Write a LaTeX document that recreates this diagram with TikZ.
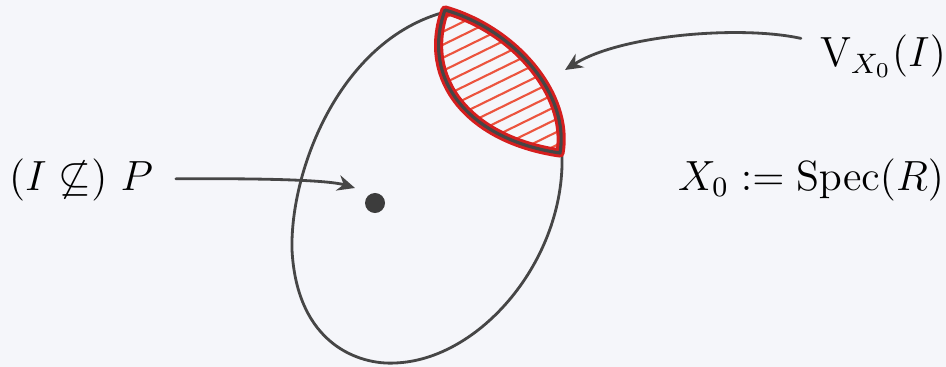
\documentclass[tikz,border=0pt]{standalone}
\usepackage{amsmath, amssymb}
\usepackage{tikz}
\usetikzlibrary{arrows.meta}
\usepackage{xcolor}

\definecolor{pencil}{RGB}{70,70,70}
\definecolor{redpen}{RGB}{214,30,30}
\definecolor{hatchred}{RGB}{236,84,62}
\definecolor{paper}{RGB}{245,246,250}

\begin{document}
\begin{tikzpicture}[x=0.01cm, y=-0.01cm, >={Stealth[length=5pt,width=4.5pt]},
    every node/.style={font=\fontsize{11.5}{14}\selectfont},
    pencilline/.style={draw=pencil,line width=0.8pt,line cap=round}]

% Paper
\useasboundingbox (0,0) rectangle (946,367);
\fill[paper] (0,0) rectangle (946,367);

% Spec(R)
\draw[pencilline] (445,12) .. controls (340,40) and (290,170) .. (292,250)
  .. controls (297,345) and (360,365) .. (395,363)
  .. controls (480,360) and (565,260) .. (562,155);

% V(I), hatched
\def\lenspath{(445,10) .. controls (515,30) and (570,95) .. (560,153) .. controls (470,140) and (420,80) .. cycle}
\begin{scope}
  \clip \lenspath;
  \foreach \k in {0,...,26} {
    \draw[hatchred, line width=0.6pt] (420,30+13*\k) -- ++(200,-98);
  }
\end{scope}
\draw[redpen, line width=2.6pt, line join=round] \lenspath;
\draw[pencil, line width=0.9pt, line join=round] \lenspath;

% Point P
\node[circle, fill=pencil!85!black, inner sep=0pt, minimum size=0.2cm] (dot) at (375,203) {};
\coordinate (tipP) at (355,188);

% Labels
\node[anchor=base] (P) at (81,190) {$(I \not\subseteq)\ P$};
\node[anchor=base] (V) at (883,67) {$\mathrm{V}_{X_0}(I)$};
\node[anchor=base] (X) at (811,190) {$X_0 := \mathrm{Spec}(R)$};
\coordinate (tipV) at (565,70);

% Arrows
\draw[->, pencilline, shorten <=3pt] (P) .. controls (300,178) and (335,182) .. (tipP);
\draw[->, pencilline, shorten <=2pt] (V) .. controls (740,25) and (620,35) .. (tipV);
\end{tikzpicture}
\end{document}
